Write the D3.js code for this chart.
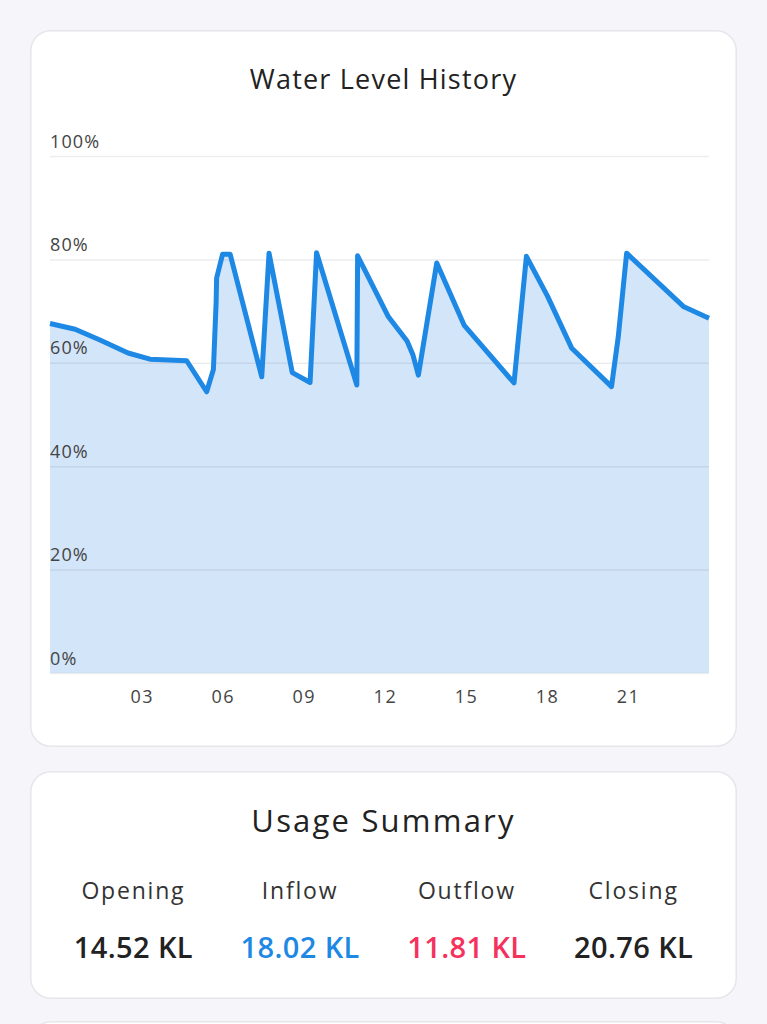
<!DOCTYPE html>
<html>
<head>
<meta charset="utf-8">
<script src="https://cdn.jsdelivr.net/npm/d3@7"></script>
<style>
  html, body { margin: 0; padding: 0; background: #f6f6fa; }
  svg { display: block; }
  text { font-family: "Open Sans", "Noto Sans", sans-serif; }
</style>
</head>
<body>
<svg id="chart" width="767" height="1024"></svg>
<script>
// ---- Data ----
const chartTitle = "Water Level History";
// day of month (fractional) of each reading
const days = [-0.40, 0.53, 1.45, 2.49, 3.30, 4.66, 5.40, 5.65, 5.75, 5.77, 5.99, 6.27,
  7.44, 7.71, 8.57, 9.23, 9.47, 10.96, 10.99, 12.13, 12.82, 13.04, 13.24, 13.92,
  14.93, 16.78, 17.24, 18.02, 18.92, 20.39, 20.64, 20.95, 23.05, 24.00];
// water level in percent
const levels = [67.6, 66.5, 64.4, 61.9, 60.7, 60.4, 54.4, 58.7, 71.6, 76.4, 81.0, 81.0,
  57.3, 81.2, 58.1, 56.2, 81.3, 55.7, 80.7, 68.9, 64.2, 61.5, 57.6, 79.3,
  67.3, 56.1, 80.6, 72.9, 62.8, 55.4, 65.0, 81.2, 70.9, 68.6];
const yTicks = [0, 20, 40, 60, 80, 100];
const xTicks = [3, 6, 9, 12, 15, 18, 21];

const summaryTitle = "Usage Summary";
const summaryLabels = ["Opening", "Inflow", "Outflow", "Closing"];
const summaryValues = ["14.52 KL", "18.02 KL", "11.81 KL", "20.76 KL"];
const summaryColors = ["#222222", "#1e88e5", "#f5315d", "#222222"];

// ---- Drawing ----
const svg = d3.select("#chart");
const data = days.map((d, i) => ({ d, v: levels[i] }));

// cards
const cards = [
  { x: 30, y: 30, w: 707, h: 717 },
  { x: 30, y: 771, w: 707, h: 228 },
  { x: 30, y: 1021, w: 707, h: 200 }
];
svg.selectAll("rect.card").data(cards).join("rect")
  .attr("class", "card")
  .attr("x", c => c.x + 0.75).attr("y", c => c.y + 0.75)
  .attr("width", c => c.w - 1.5).attr("height", c => c.h - 1.5)
  .attr("rx", 20).attr("ry", 20)
  .attr("fill", "#ffffff").attr("stroke", "#e6e6ec").attr("stroke-width", 1.5);

// title
svg.append("text")
  .attr("x", 383.5).attr("y", 89)
  .attr("text-anchor", "middle")
  .attr("font-size", 27).attr("letter-spacing", 1.2).attr("fill", "#222")
  .text(chartTitle);

const x = d3.scaleLinear().domain([-0.4, 24.0]).range([50, 709]);
const y = d3.scaleLinear().domain([0, 100]).range([673, 156]);

// area
const area = d3.area().x(p => x(p.d)).y0(y(0)).y1(p => y(p.v)).curve(d3.curveLinear);
svg.append("path").datum(data).attr("d", area).attr("fill", "#d3e5f9");

// grid lines
const yAxis = d3.axisLeft(y).tickValues(yTicks).tickSize(-(709 - 50)).tickFormat(d => d + "%");
const gy = svg.append("g").attr("transform", "translate(50,0)").call(yAxis);
gy.select(".domain").remove();
gy.selectAll(".tick line").attr("stroke", "rgba(40,40,80,0.09)").attr("stroke-width", 1.5);
gy.selectAll(".tick text")
  .attr("x", 0).attr("dy", -9)
  .attr("text-anchor", "start")
  .attr("font-size", 18).attr("letter-spacing", 1.1).attr("fill", "#444")
  .attr("font-family", "'Open Sans', sans-serif");

// line
const line = d3.line().x(p => x(p.d)).y(p => y(p.v)).curve(d3.curveLinear);
svg.append("path").datum(data).attr("d", line)
  .attr("fill", "none").attr("stroke", "#1e88e5").attr("stroke-width", 5)
  .attr("stroke-linejoin", "round").attr("stroke-linecap", "butt");

// x axis
const xAxis = d3.axisBottom(x).tickValues(xTicks).tickSize(0).tickPadding(0)
  .tickFormat(d => String(d).padStart(2, "0"));
const gx = svg.append("g").attr("transform", "translate(0,673)").call(xAxis);
gx.select(".domain").remove();
gx.selectAll(".tick text")
  .attr("dy", 30)
  .attr("font-size", 18).attr("letter-spacing", 1.5).attr("fill", "#444")
  .attr("font-family", "'Open Sans', sans-serif");

// summary
svg.append("text")
  .attr("x", 383.5).attr("y", 832)
  .attr("text-anchor", "middle")
  .attr("font-size", 31).attr("letter-spacing", 2.2).attr("fill", "#222")
  .text(summaryTitle);

const col = d3.scaleBand().domain(summaryLabels).range([50, 717]);
svg.selectAll("text.slabel").data(summaryLabels).join("text")
  .attr("class", "slabel")
  .attr("x", d => col(d) + col.bandwidth() / 2).attr("y", 899)
  .attr("text-anchor", "middle")
  .attr("font-size", 23).attr("letter-spacing", 1.8).attr("fill", "#333")
  .text(d => d);
svg.selectAll("text.svalue").data(summaryValues).join("text")
  .attr("class", "svalue")
  .attr("x", (d, i) => col(summaryLabels[i]) + col.bandwidth() / 2).attr("y", 958)
  .attr("text-anchor", "middle")
  .attr("font-size", 29).attr("font-weight", 600).attr("letter-spacing", 0.4)
  .attr("fill", (d, i) => summaryColors[i])
  .text(d => d);
</script>
</body>
</html>
